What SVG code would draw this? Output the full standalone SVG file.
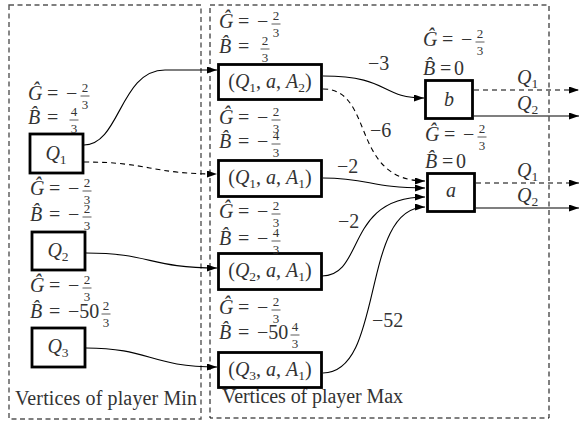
<svg xmlns="http://www.w3.org/2000/svg" width="580" height="422" viewBox="0 0 580 422">
<style>
.t { font-family: "Liberation Serif", "Times New Roman", serif; font-size: 20px; fill: #333; }
.i { font-style: italic; }
.s { font-size: 13.5px; }
.f { font-size: 13px; text-anchor: middle; }
.m { text-anchor: middle; }
.bar { stroke: #333; stroke-width: 0.8; }
.node rect { fill: #fff; stroke: #000; stroke-width: 2.8; }
.edge { fill: none; stroke: #000; stroke-width: 1.1; }
.dash { stroke-dasharray: 5 4; }
.region { fill: none; stroke-dasharray: 5 3.5; }
</style>
<defs>
<marker id="arr" markerWidth="10" markerHeight="7" refX="10" refY="3.5" orient="auto" markerUnits="userSpaceOnUse">
<path d="M0,0 L10,3.5 L0,7 z" fill="#000"/>
</marker>
</defs>
<rect id="regionMin" class="region" x="9" y="5" width="192" height="414" stroke="#555" stroke-width="1.4"/>
<rect id="regionMax" class="region" x="210" y="5" width="339" height="413" stroke="#000" stroke-width="1"/>
<text class="t" x="15" y="405" textLength="182" lengthAdjust="spacing">Vertices of player Min</text>
<text class="t" x="222" y="403" textLength="181" lengthAdjust="spacing">Vertices of player Max</text>

<g id="connectors">
<path class="edge" d="M84,145 C120,145 120,70 165,70 L217,70" marker-end="url(#arr)"/>
<path class="edge dash" d="M84,162 C150,162 150,174 217,174" marker-end="url(#arr)"/>
<path class="edge" d="M86,253 C150,253 150,268 217,268" marker-end="url(#arr)"/>
<path class="edge" d="M86,348 C150,348 150,367 217,367" marker-end="url(#arr)"/>
<path class="edge" d="M323,76 C390,76 380,98 424,98" marker-end="url(#arr)"/>
<path class="edge dash" d="M323,89 C375,89 350,181 425,181" marker-end="url(#arr)"/>
<path class="edge" d="M323,178 C370,178 370,188 425,188" marker-end="url(#arr)"/>
<path class="edge" d="M322,276 C365,276 345,197 425,197" marker-end="url(#arr)"/>
<path class="edge" d="M323,373 C385,373 360,207 425,207" marker-end="url(#arr)"/>
<path class="edge dash" d="M474,90 L579,90" marker-end="url(#arr)"/>
<path class="edge" d="M474,116 L579,116" marker-end="url(#arr)"/>
<path class="edge dash" d="M476,183 L579,183" marker-end="url(#arr)"/>
<path class="edge" d="M476,208 L579,208" marker-end="url(#arr)"/>
<text class="t" x="368" y="70">−3</text>
<text class="t" x="370" y="137">−6</text>
<text class="t" x="337" y="173">−2</text>
<text class="t" x="338" y="228">−2</text>
<text class="t" x="372" y="327">−52</text>
<text class="t" x="517" y="84"><tspan class="i">Q</tspan><tspan class="s" dy="4">1</tspan></text>
<text class="t" x="517" y="110"><tspan class="i">Q</tspan><tspan class="s" dy="4">2</tspan></text>
<text class="t" x="517" y="177"><tspan class="i">Q</tspan><tspan class="s" dy="4">1</tspan></text>
<text class="t" x="517" y="202"><tspan class="i">Q</tspan><tspan class="s" dy="4">2</tspan></text>
</g>

<g id="nodeQ1" class="node">
<rect x="30" y="134" width="53" height="39"/>
<text class="t m" x="56" y="160"><tspan class="i">Q</tspan><tspan class="s" dy="4">1</tspan></text>
<g transform="translate(28,100)">
<text class="t"><tspan class="i">Ĝ</tspan><tspan x="19">=</tspan><tspan x="38">−</tspan></text>
<text class="t f"><tspan x="57" y="-8">2</tspan><tspan x="57" y="8.5">3</tspan></text>
<line class="bar" x1="52.5" y1="-4" x2="61.5" y2="-4"/>
</g>
<g transform="translate(28,124)">
<text class="t"><tspan class="i">B̂</tspan><tspan x="19">=</tspan></text>
<text class="t f"><tspan x="46" y="-8">4</tspan><tspan x="46" y="8.5">3</tspan></text>
<line class="bar" x1="41.5" y1="-4" x2="50.5" y2="-4"/>
</g>
</g>

<g id="nodeQ2" class="node">
<rect x="32" y="232" width="53" height="38"/>
<text class="t m" x="58" y="257"><tspan class="i">Q</tspan><tspan class="s" dy="4">2</tspan></text>
<g transform="translate(30,195)">
<text class="t"><tspan class="i">Ĝ</tspan><tspan x="19">=</tspan><tspan x="38">−</tspan></text>
<text class="t f"><tspan x="57" y="-8">2</tspan><tspan x="57" y="8.5">3</tspan></text>
<line class="bar" x1="52.5" y1="-4" x2="61.5" y2="-4"/>
</g>
<g transform="translate(30,221)">
<text class="t"><tspan class="i">B̂</tspan><tspan x="19">=</tspan><tspan x="38">−</tspan></text>
<text class="t f"><tspan x="57" y="-8">2</tspan><tspan x="57" y="8.5">3</tspan></text>
<line class="bar" x1="52.5" y1="-4" x2="61.5" y2="-4"/>
</g>
</g>

<g id="nodeQ3" class="node">
<rect x="32" y="328" width="53" height="39"/>
<text class="t m" x="58" y="353"><tspan class="i">Q</tspan><tspan class="s" dy="4">3</tspan></text>
<g transform="translate(30,292)">
<text class="t"><tspan class="i">Ĝ</tspan><tspan x="19">=</tspan><tspan x="38">−</tspan></text>
<text class="t f"><tspan x="57" y="-8">2</tspan><tspan x="57" y="8.5">3</tspan></text>
<line class="bar" x1="52.5" y1="-4" x2="61.5" y2="-4"/>
</g>
<g transform="translate(30,318)">
<text class="t"><tspan class="i">B̂</tspan><tspan x="19">=</tspan><tspan x="38">−50</tspan></text>
<text class="t f"><tspan x="76" y="-8">2</tspan><tspan x="76" y="8.5">3</tspan></text>
<line class="bar" x1="71.5" y1="-4" x2="80.5" y2="-4"/>
</g>
</g>

<g id="nodeQ1aA2" class="node">
<rect x="218.5" y="64.5" width="103" height="35"/>
<text class="t m" x="270" y="88">(<tspan class="i">Q</tspan><tspan class="s" dy="4">1</tspan><tspan dy="-4">, </tspan><tspan class="i">a</tspan>, <tspan class="i">A</tspan><tspan class="s" dy="4">2</tspan><tspan dy="-4">)</tspan></text>
<g transform="translate(219,28)">
<text class="t"><tspan class="i">Ĝ</tspan><tspan x="19">=</tspan><tspan x="38">−</tspan></text>
<text class="t f"><tspan x="57" y="-8">2</tspan><tspan x="57" y="8.5">3</tspan></text>
<line class="bar" x1="52.5" y1="-4" x2="61.5" y2="-4"/>
</g>
<g transform="translate(219,53)">
<text class="t"><tspan class="i">B̂</tspan><tspan x="19">=</tspan></text>
<text class="t f"><tspan x="46" y="-8">2</tspan><tspan x="46" y="8.5">3</tspan></text>
<line class="bar" x1="41.5" y1="-4" x2="50.5" y2="-4"/>
</g>
</g>

<g id="nodeQ1aA1" class="node">
<rect x="218.5" y="160.5" width="103" height="36"/>
<text class="t m" x="270" y="184">(<tspan class="i">Q</tspan><tspan class="s" dy="4">1</tspan><tspan dy="-4">, </tspan><tspan class="i">a</tspan>, <tspan class="i">A</tspan><tspan class="s" dy="4">1</tspan><tspan dy="-4">)</tspan></text>
<g transform="translate(219,124)">
<text class="t"><tspan class="i">Ĝ</tspan><tspan x="19">=</tspan><tspan x="38">−</tspan></text>
<text class="t f"><tspan x="57" y="-8">2</tspan><tspan x="57" y="8.5">3</tspan></text>
<line class="bar" x1="52.5" y1="-4" x2="61.5" y2="-4"/>
</g>
<g transform="translate(219,148)">
<text class="t"><tspan class="i">B̂</tspan><tspan x="19">=</tspan><tspan x="38">−</tspan></text>
<text class="t f"><tspan x="57" y="-8">4</tspan><tspan x="57" y="8.5">3</tspan></text>
<line class="bar" x1="52.5" y1="-4" x2="61.5" y2="-4"/>
</g>
</g>

<g id="nodeQ2aA1" class="node">
<rect x="218.5" y="253.5" width="103" height="36"/>
<text class="t m" x="270" y="277">(<tspan class="i">Q</tspan><tspan class="s" dy="4">2</tspan><tspan dy="-4">, </tspan><tspan class="i">a</tspan>, <tspan class="i">A</tspan><tspan class="s" dy="4">1</tspan><tspan dy="-4">)</tspan></text>
<g transform="translate(219,218)">
<text class="t"><tspan class="i">Ĝ</tspan><tspan x="19">=</tspan><tspan x="38">−</tspan></text>
<text class="t f"><tspan x="57" y="-8">2</tspan><tspan x="57" y="8.5">3</tspan></text>
<line class="bar" x1="52.5" y1="-4" x2="61.5" y2="-4"/>
</g>
<g transform="translate(219,245)">
<text class="t"><tspan class="i">B̂</tspan><tspan x="19">=</tspan><tspan x="38">−</tspan></text>
<text class="t f"><tspan x="57" y="-8">4</tspan><tspan x="57" y="8.5">3</tspan></text>
<line class="bar" x1="52.5" y1="-4" x2="61.5" y2="-4"/>
</g>
</g>

<g id="nodeQ3aA1" class="node">
<rect x="218.5" y="352.5" width="103" height="35"/>
<text class="t m" x="270" y="376">(<tspan class="i">Q</tspan><tspan class="s" dy="4">3</tspan><tspan dy="-4">, </tspan><tspan class="i">a</tspan>, <tspan class="i">A</tspan><tspan class="s" dy="4">1</tspan><tspan dy="-4">)</tspan></text>
<g transform="translate(219,314)">
<text class="t"><tspan class="i">Ĝ</tspan><tspan x="19">=</tspan><tspan x="38">−</tspan></text>
<text class="t f"><tspan x="57" y="-8">2</tspan><tspan x="57" y="8.5">3</tspan></text>
<line class="bar" x1="52.5" y1="-4" x2="61.5" y2="-4"/>
</g>
<g transform="translate(219,339)">
<text class="t"><tspan class="i">B̂</tspan><tspan x="19">=</tspan><tspan x="38">−50</tspan></text>
<text class="t f"><tspan x="76" y="-8">4</tspan><tspan x="76" y="8.5">3</tspan></text>
<line class="bar" x1="71.5" y1="-4" x2="80.5" y2="-4"/>
</g>
</g>

<g id="nodeb" class="node">
<rect x="425.5" y="80.5" width="47" height="38"/>
<text class="t m i" x="449" y="106">b</text>
<g transform="translate(423,46)">
<text class="t"><tspan class="i">Ĝ</tspan><tspan x="19">=</tspan><tspan x="38">−</tspan></text>
<text class="t f"><tspan x="57" y="-8">2</tspan><tspan x="57" y="8.5">3</tspan></text>
<line class="bar" x1="52.5" y1="-4" x2="61.5" y2="-4"/>
</g>
<g transform="translate(423,75)">
<text class="t"><tspan class="i">B̂</tspan><tspan x="17">=</tspan><tspan x="31">0</tspan></text>
</g>
</g>

<g id="nodea" class="node">
<rect x="427.5" y="173.5" width="47" height="38"/>
<text class="t m i" x="451" y="197">a</text>
<g transform="translate(425,141)">
<text class="t"><tspan class="i">Ĝ</tspan><tspan x="19">=</tspan><tspan x="38">−</tspan></text>
<text class="t f"><tspan x="57" y="-8">2</tspan><tspan x="57" y="8.5">3</tspan></text>
<line class="bar" x1="52.5" y1="-4" x2="61.5" y2="-4"/>
</g>
<g transform="translate(425,168)">
<text class="t"><tspan class="i">B̂</tspan><tspan x="17">=</tspan><tspan x="31">0</tspan></text>
</g>
</g>
</svg>
